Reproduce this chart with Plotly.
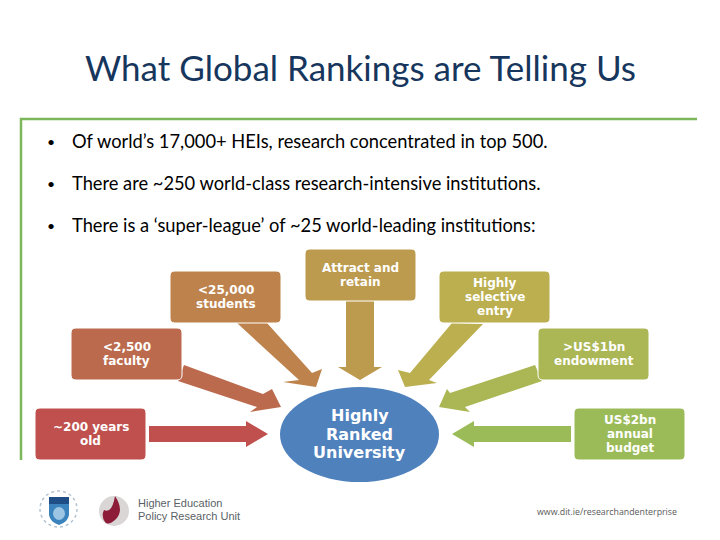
import plotly.graph_objects as go

TITLE = "What Global Rankings are Telling Us"
BULLETS = [
    "Of world’s 17,000+ HEIs, research concentrated in top 500.",
    "There are ~250 world-class research-intensive institutions.",
    "There is a ‘super-league’ of ~25 world-leading institutions:",
]
BOX_LABELS = [
    ["~200 years", "old"],
    ["<2,500", "faculty"],
    ["<25,000", "students"],
    ["Attract and", "retain"],
    ["Highly", "selective", "entry"],
    [">US$1bn", "endowment"],
    ["US$2bn", "annual", "budget"],
]
CENTER_LABEL = ["Highly", "Ranked", "University"]
LOGO_TEXT = ["Higher Education", "Policy Research Unit"]
URL_TEXT = "www.dit.ie/researchandenterprise"

# layout, in slide pixels
box_x0 = [35, 71, 170, 305, 439, 538, 574]
box_y0 = [408, 328, 271, 249, 271, 328, 408]
box_w, box_h = 111, 52
box_colors = ["#C0504D", "#BC6A4D", "#BE834D", "#BC9A4E", "#BBAF50", "#ABB654", "#9BBB59"]
arrow_colors = ["#C0504D", "#BC6A4D", "#BE834D", "#BC9A4E", "#BBAF50", "#ABB654", "#9BBB59"]
arrow_paths = [
    [(149, 426), (246, 426), (246, 421), (268, 434), (246, 447), (246, 442), (149, 442)],
    [(184, 365), (263, 394), (272, 389), (281, 407), (250, 412), (257, 407), (178, 381)],
    [(237, 323), (267, 323), (312, 373), (322, 369), (316, 387), (283, 382), (299, 380)],
    [(346, 301), (374, 301), (374, 367), (382, 367), (360, 380), (338, 367), (346, 367)],
    [(452, 323), (483, 324), (429, 380), (437, 383), (405, 387), (398, 370), (410, 373)],
    [(535, 365), (542, 381), (465, 407), (470, 412), (439, 407), (447, 389), (450, 393)],
    [(571, 426), (474, 426), (474, 421), (452, 434), (474, 447), (474, 442), (571, 442)],
]


def rounded(x0, y0, w, h, r=5):
    x1, y1 = x0 + w, y0 + h
    return (f"M{x0+r},{y0} L{x1-r},{y0} Q{x1},{y0} {x1},{y0+r} L{x1},{y1-r} Q{x1},{y1} {x1-r},{y1} "
            f"L{x0+r},{y1} Q{x0},{y1} {x0},{y1-r} L{x0},{y0+r} Q{x0},{y0} {x0+r},{y0} Z")


def polygon(points):
    return "M" + " L".join(f"{x},{y}" for x, y in points) + " Z"


shapes = []
# green frame
shapes.append(dict(type="path", path="M21,460 L21,119 L697,119", line=dict(color="#7DB75B", width=2.5)))

for pts, color in zip(arrow_paths, arrow_colors):
    shapes.append(dict(type="path", path=polygon(pts), fillcolor=color, line=dict(width=0)))

for x0, y0, color in zip(box_x0, box_y0, box_colors):
    shapes.append(dict(type="path", path=rounded(x0, y0, box_w, box_h), fillcolor=color,
                       line=dict(color="#FFFFFF", width=1)))

shapes.append(dict(type="circle", x0=280, x1=439, y0=387, y1=482, fillcolor="#4F81BD", line=dict(width=0)))

# DIT crest
shapes.append(dict(type="circle", x0=40, x1=77, y0=491, y1=527, fillcolor="#FFFFFF",
                   line=dict(color="#B4C4D2", width=1.5, dash="dot")))
shapes.append(dict(type="path", path="M49,497 L69,497 L69,515 Q68,522 59,525 Q50,522 49,515 Z",
                   fillcolor="#3B83BD", line=dict(width=0)))
shapes.append(dict(type="path", path="M49,497 L69,497 L69,504 L49,504 Z", fillcolor="#1F4E86", line=dict(width=0)))
shapes.append(dict(type="circle", x0=53, x1=65, y0=507, y1=520, fillcolor="#9CC6E4", line=dict(width=0)))

# research unit mark
shapes.append(dict(type="circle", x0=99, x1=129, y0=496, y1=526, fillcolor="#DAD6D6", line=dict(width=0)))
shapes.append(dict(type="path", path="M115,496 Q125,511 115,520 Q108,526 105,522 Q101,516 104,510 Q112,514 115,496 Z",
                   fillcolor="#8C1C38", line=dict(width=0)))

annotations = [
    dict(x=360, y=67, text=TITLE, font=dict(family="Lato", size=35, color="#17365D")),
    dict(x=606.5, y=512, text=URL_TEXT, font=dict(family="Open Sans", size=8.8, color="#595959")),
]

for text, y in zip(LOGO_TEXT, [502.5, 515.5]):
    annotations.append(dict(x=136, y=y, text=text, xanchor="left",
                            font=dict(family="Liberation Sans", size=11, color="#5A5F66")))

for text, y in zip(BULLETS, [141, 183, 225]):
    annotations.append(dict(x=45, y=y, text="•", xanchor="left", font=dict(family="Lato", size=14, color="#000000")))
    annotations.append(dict(x=70, y=y, text=text, xanchor="left", font=dict(family="Lato", size=18.3, color="#000000")))

for lines, x0, y0 in zip(BOX_LABELS, box_x0, box_y0):
    for i, text in enumerate(lines):
        annotations.append(dict(x=x0 + box_w / 2, y=y0 + box_h / 2 + (i - (len(lines) - 1) / 2) * 14.2, text=text,
                                font=dict(family="DejaVu Sans", size=12, weight="bold", color="#FFFFFF")))

for i, text in enumerate(CENTER_LABEL):
    annotations.append(dict(x=359.5, y=434 + (i - 1) * 18.8, text=text,
                            font=dict(family="DejaVu Sans", size=16, weight="bold", color="#FFFFFF")))

for a in annotations:
    a.update(xref="x", yref="y", showarrow=False)

fig = go.Figure()
fig.update_layout(
    width=720, height=540,
    margin=dict(l=0, r=0, t=0, b=0),
    paper_bgcolor="#FFFFFF", plot_bgcolor="#FFFFFF",
    showlegend=False,
    xaxis=dict(range=[0, 720], visible=False, fixedrange=True),
    yaxis=dict(range=[540, 0], visible=False, fixedrange=True),
    shapes=shapes,
    annotations=annotations,
)
fig.write_html("out.html", config=dict(displayModeBar=False),
               post_script="document.body.style.margin='0';document.documentElement.style.overflow='hidden';")
